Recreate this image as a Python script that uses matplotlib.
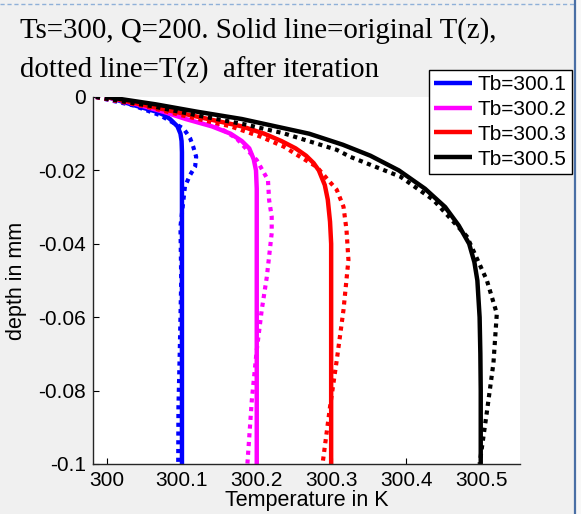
import matplotlib
matplotlib.use("Agg")
import matplotlib.pyplot as plt
from matplotlib.lines import Line2D
from matplotlib.patches import Rectangle

# depth (mm) and temperature (K)
# solid lines: original T(z)
z_b = [0, -0.002, -0.004, -0.005, -0.006, -0.008, -0.010, -0.012, -0.015, -0.02, -0.05, -0.1]
t_b = [300.0, 300.032, 300.066, 300.077, 300.084, 300.094, 300.098, 300.0995, 300.1, 300.1, 300.1, 300.1]

z_m = [0, -0.002, -0.004, -0.006, -0.008, -0.010, -0.012, -0.014, -0.017, -0.020, -0.025, -0.03, -0.1]
t_m = [300.0, 300.04, 300.075, 300.105, 300.14, 300.165, 300.18, 300.19, 300.196, 300.199, 300.2, 300.2, 300.2]

z_r = [0, -0.002, -0.004, -0.006, -0.008, -0.010, -0.012, -0.014, -0.016, -0.018, -0.020,
       -0.024, -0.028, -0.034, -0.04, -0.1]
t_r = [300.0, 300.045, 300.09, 300.135, 300.18, 300.21, 300.233, 300.252, 300.266, 300.276,
       300.283, 300.291, 300.295, 300.298, 300.2995, 300.2995]

z_k = [0, -0.002, -0.004, -0.006, -0.008, -0.010, -0.013, -0.016, -0.020, -0.025, -0.030,
       -0.035, -0.040, -0.045, -0.050, -0.060, -0.070, -0.080, -0.1]
t_k = [300.0, 300.065, 300.12, 300.18, 300.225, 300.27, 300.315, 300.352, 300.39, 300.425,
       300.452, 300.47, 300.484, 300.491, 300.495, 300.498, 300.499, 300.4995, 300.4995]

# dotted lines: T(z) after iteration
zd_b = [0, -0.0023, -0.005, -0.0086, -0.0099, -0.0113, -0.0135, -0.0163, -0.019, -0.0212,
        -0.0244, -0.028, -0.0353, -0.05, -0.07, -0.0844, -0.1]
td_b = [299.985, 300.035, 300.071, 300.102, 300.1065, 300.111, 300.115, 300.119, 300.1176,
        300.111, 300.104, 300.102, 300.098, 300.099, 300.097, 300.0953, 300.095]

zd_m = [0, -0.0025, -0.005, -0.0077, -0.0113, -0.0172, -0.0226, -0.028, -0.0326, -0.0371,
        -0.049, -0.058, -0.069, -0.0826, -0.1]
td_m = [299.985, 300.05, 300.1, 300.145, 300.173, 300.2, 300.215, 300.2165, 300.22, 300.22,
        300.2135, 300.2067, 300.2, 300.1934, 300.1875]

zd_r = [0, -0.0025, -0.005, -0.008, -0.0108, -0.0135, -0.0163, -0.019, -0.0253, -0.0299,
        -0.0362, -0.0444, -0.058, -0.0717, -0.0844, -0.1]
td_r = [299.985, 300.05, 300.1, 300.165, 300.205, 300.236, 300.258, 300.28, 300.307, 300.316,
        300.32, 300.3226, 300.316, 300.307, 300.298, 300.288]

zd_k = [0, -0.0025, -0.005, -0.0075, -0.0099, -0.0144, -0.0163, -0.0217, -0.028, -0.038,
        -0.0499, -0.059, -0.0725, -0.086, -0.1]
td_k = [299.985, 300.06, 300.12, 300.185, 300.236, 300.307, 300.325, 300.392, 300.436, 300.481,
        300.5076, 300.521, 300.5165, 300.5076, 300.498]

labels = ["Tb=300.1", "Tb=300.2", "Tb=300.3", "Tb=300.5"]
colors = ["#0000ff", "#ff00ff", "#ff0000", "#000000"]
solid = [(t_b, z_b), (t_m, z_m), (t_r, z_r), (t_k, z_k)]
dotted = [(td_b, zd_b), (td_m, zd_m), (td_r, zd_r), (td_k, zd_k)]

xticks = [300, 300.1, 300.2, 300.3, 300.4, 300.5]
xtick_labels = ["300", "300.1", "300.2", "300.3", "300.4", "300.5"]
yticks = [0, -0.02, -0.04, -0.06, -0.08, -0.1]
ytick_labels = ["0", "-0.02", "-0.04", "-0.06", "-0.08", "-0.1"]

plt.rcParams["font.family"] = ["Liberation Sans", "DejaVu Sans"]

fig = plt.figure(figsize=(5.81, 5.14), dpi=100, facecolor="#f0f0f0")
ax = fig.add_axes([0.160, 0.0973, 0.735, 0.714])
ax.set_facecolor("white")

handles = []
for (t, z), (td, zd), c, lab in zip(solid, dotted, colors, labels):
    h, = ax.plot(t, z, color=c, lw=3.2, label=lab, solid_capstyle="butt")
    ax.plot(td, zd, color=c, lw=3.0, linestyle=(0, (1, 1.1)), dash_capstyle="butt")
    handles.append(h)

ax.set_xlim(299.981, 300.552)
ax.set_ylim(-0.1, 0)
ax.set_xticks(xticks)
ax.set_xticklabels(xtick_labels)
ax.set_yticks(yticks)
ax.set_yticklabels(ytick_labels)
ax.tick_params(direction="in", length=4, width=0.8, labelsize=15, pad=5)
for s in ["top", "right"]:
    ax.spines[s].set_visible(False)
for s in ["left", "bottom"]:
    ax.spines[s].set_color("#262626")
    ax.spines[s].set_linewidth(1.0)

ax.set_xlabel("Temperature in K", fontsize=15.5, labelpad=0)
ax.set_ylabel("depth in mm", fontsize=15.5, labelpad=8)

serif = ["Liberation Serif", "DejaVu Serif"]
fig.text(0.034, 0.927, "Ts=300, Q=200. Solid line=original T(z),",
         family=serif, fontsize=20.8, ha="left", va="baseline")
fig.text(0.034, 0.848, "dotted line=T(z)  after iteration",
         family=serif, fontsize=20.8, ha="left", va="baseline")

leg = fig.legend(handles=handles, loc="upper right", bbox_to_anchor=(0.9845, 0.864),
                 bbox_transform=fig.transFigure, fontsize=15, frameon=True, fancybox=False,
                 handlelength=1.8, handletextpad=0.3, labelspacing=0.28, borderpad=0.25,
                 borderaxespad=0)
leg.get_frame().set_edgecolor("black")
leg.get_frame().set_linewidth(1.0)
leg.get_frame().set_alpha(1)

# screenshot frame lines
fig.add_artist(Rectangle((0.9915, 0), 0.0085, 1, transform=fig.transFigure,
                         facecolor="#f8f8f8", edgecolor="none"))
fig.add_artist(Line2D([0, 0.99], [0.992, 0.992], transform=fig.transFigure,
                      color="#8fb0d8", lw=1.0, linestyle=(0, (3, 2))))
fig.add_artist(Line2D([0.9905, 0.9905], [0, 1], transform=fig.transFigure,
                      color="#4a6fa5", lw=1.6))

fig.savefig("out.png", dpi=100, facecolor=fig.get_facecolor())
